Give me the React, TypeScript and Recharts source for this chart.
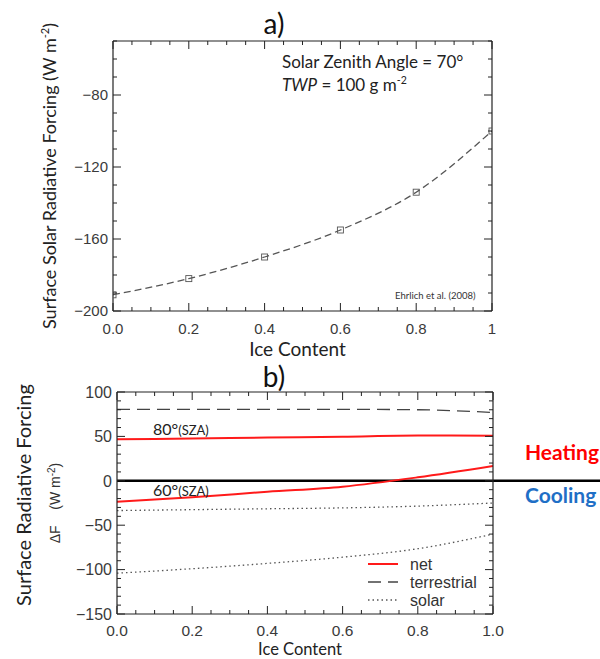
import React from "react";
import { LineChart, Line, XAxis, YAxis, ReferenceLine, Legend } from "recharts";

// ---- panel a) : Ehrlich et al. (2008), SZA = 70°, TWP = 100 g m-2
const iceContentA = [0, 0.2, 0.4, 0.6, 0.8, 1.0];
const solarForcingA = [-191, -182, -170, -155, -134, -100];

// ---- panel b) : net / terrestrial / solar forcing for SZA 80° and 60°
const iceContentB = [0, 0.2, 0.4, 0.6, 0.8, 1.0];
const terrestrial = [80.5, 80.5, 80.5, 80.5, 80, 77];
const net80 = [46.7, 47.7, 48.7, 49.7, 51, 50.8];
const net60 = [-23.5, -18.6, -12.3, -6.6, 3.9, 16.7];
const solar80 = [-33.5, -32.5, -31.5, -30.5, -28.5, -25];
const solar60 = [-104, -99, -93, -86, -76.5, -60];

// ---- ticks
const xTicks = [0, 0.05, 0.1, 0.15, 0.2, 0.25, 0.3, 0.35, 0.4, 0.45, 0.5, 0.55, 0.6, 0.65, 0.7, 0.75, 0.8, 0.85, 0.9, 0.95, 1];
const xMajor = [0, 0.2, 0.4, 0.6, 0.8, 1];
const xLabelsA = ["0.0", "0.2", "0.4", "0.6", "0.8", "1"];
const xLabelsB = ["0.0", "0.2", "0.4", "0.6", "0.8", "1.0"];

const yTicksA = [-200, -190, -180, -170, -160, -150, -140, -130, -120, -110, -100, -90, -80, -70, -60, -50];
const yMajorA = [-200, -160, -120, -80];
const yLabelsA = ["\u2212200", "\u2212160", "\u2212120", "\u221280"];

const yTicksB = [-150, -140, -130, -120, -110, -100, -90, -80, -70, -60, -50, -40, -30, -20, -10, 0, 10, 20, 30, 40, 50, 60, 70, 80, 90, 100];
const yMajorB = [-150, -100, -50, 0, 50, 100];
const yLabelsB = ["\u2212150", "\u2212100", "\u221250", "0", "50", "100"];

const legendItems = [
  { name: "net", color: "#ff1a1a", dash: undefined, width: 2 },
  { name: "terrestrial", color: "#444", dash: "13 7", width: 1.3 },
  { name: "solar", color: "#555", dash: "1.5 3", width: 1.3 },
];

const dataA = iceContentA.map((x, i) => ({ x, forcing: solarForcingA[i] }));
const dataB = iceContentB.map((x, i) => ({
  x,
  terrestrial: terrestrial[i],
  net80: net80[i],
  net60: net60[i],
  solar80: solar80[i],
  solar60: solar60[i],
}));

const TICK_FONT = "'Liberation Sans', Arial, sans-serif";
const TEXT_FONT = "Lato, 'Open Sans', sans-serif";

type Side = "bottom" | "top" | "left" | "right";

function axisTick(side: Side, majors: number[], labels: string[] | null, fontSize: number, labelOffset: number) {
  return (props: any) => {
    const { x, y, payload } = props;
    const v = payload.value;
    const idx = majors.findIndex((m) => Math.abs(m - v) < 1e-9);
    const len = idx >= 0 ? 8 : 4;
    let x2 = x;
    let y2 = y;
    if (side === "bottom") y2 = y - len;
    if (side === "top") y2 = y + len;
    if (side === "left") x2 = x + len;
    if (side === "right") x2 = x - len;
    let label = null;
    if (labels && idx >= 0) {
      label =
        side === "bottom" ? (
          <text x={x} y={y + labelOffset} textAnchor="middle" fontSize={fontSize} fontFamily={TICK_FONT} fill="#3a3a3a">
            {labels[idx]}
          </text>
        ) : (
          <text x={x - labelOffset} y={y} dy="0.36em" textAnchor="end" fontSize={fontSize} fontFamily={TICK_FONT} fill="#3a3a3a">
            {labels[idx]}
          </text>
        );
    }
    return (
      <g>
        <line x1={x} y1={y} x2={x2} y2={y2} stroke="#222" strokeWidth={1} />
        {label}
      </g>
    );
  };
}

const squareDot = (p: any) => (
  <rect key={`sq-${p.index}`} x={p.cx - 3} y={p.cy - 3} width={6} height={6} fill="none" stroke="#555" strokeWidth={0.9} />
);

const axisLine = { stroke: "#222", strokeWidth: 1.2 };

function xTitle(dy: number, size: number) {
  return (props: any) => {
    const vb = props.viewBox;
    return (
      <text x={vb.x + vb.width / 2 - 5} y={vb.y + dy} textAnchor="middle" fontSize={size} fontFamily={TEXT_FONT} fill="#222">
        Ice Content
      </text>
    );
  };
}

const yTitleA = (props: any) => {
  const vb = props.viewBox;
  const cx = 50;
  const cy = vb.y + vb.height / 2;
  return (
    <text x={cx} y={cy} transform={`rotate(-90 ${cx} ${cy})`} textAnchor="middle" dy="0.35em" fontSize={18} fontFamily={TEXT_FONT} fill="#222">
      Surface Solar Radiative Forcing (W m
      <tspan fontSize={11} dy={-7}>-2</tspan>
      <tspan dy={7}>)</tspan>
    </text>
  );
};

const yTitleB = (props: any) => {
  const vb = props.viewBox;
  const cy = vb.y + vb.height / 2;
  return (
    <g>
      <text x={24} y={cy - 8} transform={`rotate(-90 24 ${cy - 8})`} textAnchor="middle" dy="0.35em" fontSize={20} fontFamily={TEXT_FONT} fill="#222">
        Surface Radiative Forcing
      </text>
      <text x={55} y={cy} transform={`rotate(-90 55 ${cy})`} textAnchor="middle" dy="0.35em" fontSize={14} fontFamily={TICK_FONT} fill="#333" style={{ whiteSpace: "pre" }}>
        {"\u0394F    (W m"}
        <tspan fontSize={10} dy={-5}>-2</tspan>
        <tspan dy={5}>)</tspan>
      </text>
    </g>
  );
};

const renderLegend = () => (
  <svg width={140} height={56}>
    {legendItems.map((it, i) => (
      <g key={it.name}>
        <line x1={2} x2={32} y1={8 + i * 18} y2={8 + i * 18} stroke={it.color} strokeWidth={it.width} strokeDasharray={it.dash} />
        <text x={44} y={8 + i * 18} dy="0.36em" fontSize={16} fontFamily={TICK_FONT} fill="#333">
          {it.name}
        </text>
      </g>
    ))}
  </svg>
);

export default function App() {
  return (
    <div style={{ position: "absolute", left: 0, top: 0, width: 600, height: 659, background: "#fff", fontFamily: TEXT_FONT }}>
      {/* panel a */}
      <div style={{ position: "absolute", left: 0, top: 0 }}>
        <LineChart width={600} height={360} data={dataA} margin={{ top: 40, right: 107, bottom: 48, left: 0 }}>
          <XAxis
            dataKey="x"
            type="number"
            domain={[0, 1]}
            allowDataOverflow
            ticks={xTicks}
            interval={0}
            height={1}
            tickSize={0}
            tickMargin={0}
            tickLine={false}
            axisLine={axisLine}
            tick={axisTick("bottom", xMajor, xLabelsA, 15, 22.5)}
            label={{ content: xTitle(45, 19) }}
          />
          <XAxis xAxisId="top" orientation="top" dataKey="x" type="number" domain={[0, 1]} allowDataOverflow ticks={xTicks} interval={0} height={1} tickSize={0} tickMargin={0} tickLine={false} axisLine={axisLine} tick={axisTick("top", xMajor, null, 15, 0)} />
          <YAxis
            type="number"
            domain={[-200, -50]}
            allowDataOverflow
            ticks={yTicksA}
            interval={0}
            width={113}
            tickSize={0}
            tickMargin={0}
            tickLine={false}
            axisLine={axisLine}
            tick={axisTick("left", yMajorA, yLabelsA, 15, 5)}
            label={{ content: yTitleA }}
          />
          <YAxis yAxisId="right" orientation="right" type="number" domain={[-200, -50]} allowDataOverflow ticks={yTicksA} interval={0} width={1} tickSize={0} tickMargin={0} tickLine={false} axisLine={axisLine} tick={axisTick("right", yMajorA, null, 15, 0)} />
          <Line
            dataKey="forcing"
            type="monotone"
            stroke="#555"
            strokeWidth={1.3}
            strokeDasharray="7 4"
            dot={squareDot}
            isAnimationActive={false}
          />
        </LineChart>
      </div>

      {/* panel b */}
      <div style={{ position: "absolute", left: 0, top: 360 }}>
        <LineChart width={600} height={299} data={dataB} margin={{ top: 31, right: 106, bottom: 44, left: 0 }}>
          <XAxis
            dataKey="x"
            type="number"
            domain={[0, 1]}
            allowDataOverflow
            ticks={xTicks}
            interval={0}
            height={1}
            tickSize={0}
            tickMargin={0}
            tickLine={false}
            axisLine={axisLine}
            tick={axisTick("bottom", xMajor, xLabelsB, 15.5, 21.5)}
            label={{ content: xTitle(41, 16.5) }}
          />
          <XAxis xAxisId="top" orientation="top" dataKey="x" type="number" domain={[0, 1]} allowDataOverflow ticks={xTicks} interval={0} height={1} tickSize={0} tickMargin={0} tickLine={false} axisLine={axisLine} tick={axisTick("top", xMajor, null, 16, 0)} />
          <YAxis
            type="number"
            domain={[-150, 100]}
            allowDataOverflow
            ticks={yTicksB}
            interval={0}
            width={117}
            tickSize={0}
            tickMargin={0}
            tickLine={false}
            axisLine={axisLine}
            tick={axisTick("left", yMajorB, yLabelsB, 16, 5)}
            label={{ content: yTitleB }}
          />
          <YAxis yAxisId="right" orientation="right" type="number" domain={[-150, 100]} allowDataOverflow ticks={yTicksB} interval={0} width={1} tickSize={0} tickMargin={0} tickLine={false} axisLine={axisLine} tick={axisTick("right", yMajorB, null, 16, 0)} />
          <ReferenceLine segment={[{ x: 0, y: 0 }, { x: 1.3, y: 0 }]} ifOverflow="visible" stroke="#000" strokeWidth={2.6} />
          <Line dataKey="terrestrial" type="monotone" stroke="#444" strokeWidth={1.3} strokeDasharray="13 7" dot={false} isAnimationActive={false} />
          <Line dataKey="solar80" type="monotone" stroke="#555" strokeWidth={1.3} strokeDasharray="1.5 3" dot={false} isAnimationActive={false} />
          <Line dataKey="solar60" type="monotone" stroke="#555" strokeWidth={1.3} strokeDasharray="1.5 3" dot={false} isAnimationActive={false} />
          <Line dataKey="net80" type="monotone" stroke="#ff1a1a" strokeWidth={2} dot={false} isAnimationActive={false} />
          <Line dataKey="net60" type="monotone" stroke="#ff1a1a" strokeWidth={2} dot={false} isAnimationActive={false} />
          <Legend
            layout="vertical"
            align="center"
            verticalAlign="middle"
            content={renderLegend}
            wrapperStyle={{ left: 366, top: 196, width: 140, height: 56 }}
          />
        </LineChart>
      </div>

      {/* titles and annotations */}
      <svg width={600} height={659} style={{ position: "absolute", left: 0, top: 0, pointerEvents: "none" }}>
        <text x={274} y={34} textAnchor="middle" fontSize={28} fontFamily={TEXT_FONT} fill="#111">a)</text>
        <text x={274} y={387} textAnchor="middle" fontSize={28} fontFamily={TEXT_FONT} fill="#111">b)</text>

        <text x={282} y={68} fontSize={17} fontFamily={TEXT_FONT} fill="#222">Solar Zenith Angle = 70°</text>
        <text x={282} y={91} fontSize={17} fontFamily={TEXT_FONT} fill="#222">
          <tspan fontStyle="italic">TWP</tspan> = 100 g m
          <tspan fontSize={10.5} dy={-7}>-2</tspan>
        </text>
        <text x={395} y={298.5} fontSize={9.5} fontFamily={TEXT_FONT} fill="#333">Ehrlich et al. (2008)</text>

        <text x={153} y={435} fontFamily={TEXT_FONT} fill="#222">
          <tspan fontSize={16}>80°</tspan>
          <tspan fontSize={13}>(SZA)</tspan>
        </text>
        <text x={153} y={496} fontFamily={TEXT_FONT} fill="#222">
          <tspan fontSize={16}>60°</tspan>
          <tspan fontSize={13}>(SZA)</tspan>
        </text>

        <text x={525} y={460} fontSize={21} fontWeight={700} fontFamily={TEXT_FONT} fill="#ff0000">Heating</text>
        <text x={525} y={503} fontSize={21} fontWeight={700} fontFamily={TEXT_FONT} fill="#1f6fc6">Cooling</text>
      </svg>
    </div>
  );
}
